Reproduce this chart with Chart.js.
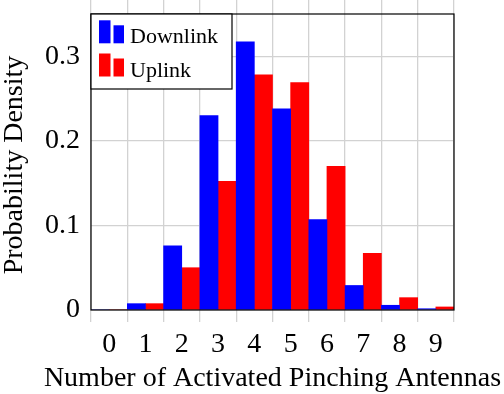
<!DOCTYPE html>
<html><head><meta charset="utf-8">
<script src="https://cdn.jsdelivr.net/npm/chart.js@4/dist/chart.umd.min.js"></script>
<style>html,body{margin:0;padding:0;background:#fff;overflow:hidden}#wrap{width:504px;height:394px}</style>
</head><body><div id="wrap"><canvas id="c" width="504" height="394"></canvas></div>
<script>
const categories = ['0','1','2','3','4','5','6','7','8','9'];
const downlink = [0, 0.0075, 0.076, 0.230, 0.317, 0.238, 0.107, 0.029, 0.0056, 0.0015];
const uplink   = [0, 0.0075, 0.050, 0.152, 0.278, 0.269, 0.170, 0.067, 0.0146, 0.0036];
const yTickValues = [0, 0.1, 0.2, 0.3];
const yTickLabels = ['0', '0.1', '0.2', '0.3'];
const seriesNames = ['Downlink', 'Uplink'];
const seriesColors = ['#0000ff', '#ff0000'];
const xTitle = 'Number of Activated Pinching Antennas';
const yTitle = 'Probability Density';

const FONT = 'Liberation Serif, Times New Roman, serif';
const GRID = '#d2d2d2';

const boxLegend = {
  id: 'boxLegend',
  afterDraw(chart) {
    const {ctx, chartArea: a} = chart;
    ctx.save();
    ctx.strokeStyle = '#000';
    ctx.lineWidth = 1.2;
    ctx.strokeRect(a.left, a.top, a.right - a.left, a.bottom - a.top);
    // axis titles
    ctx.fillStyle = '#000';
    ctx.font = '28px ' + FONT;
    ctx.textAlign = 'center';
    ctx.textBaseline = 'alphabetic';
    ctx.fillText(xTitle, (a.left + a.right) / 2, a.bottom + 76);
    ctx.save();
    ctx.translate(22, 165);
    ctx.rotate(-Math.PI / 2);
    ctx.fillText(yTitle, 0, 0);
    ctx.restore();
    // legend
    const lx = a.left, ly = a.top, lw = 141, lh = 75;
    ctx.fillStyle = '#fff';
    ctx.fillRect(lx, ly, lw, lh);
    ctx.strokeRect(lx, ly, lw, lh);
    ctx.font = '22px ' + FONT;
    ctx.textAlign = 'left';
    const bases = [29.3, 62.5];
    chart.data.datasets.forEach((ds, i) => {
      const b = ly + bases[i];
      ctx.fillStyle = ds.backgroundColor;
      ctx.fillRect(lx + 8, b - 23, 11.5, 23);
      ctx.fillRect(lx + 22.5, b - 18, 10.5, 18);
      ctx.fillStyle = '#000';
      ctx.fillText(ds.label, lx + 39, b);
    });
    ctx.restore();
  }
};

new Chart(document.getElementById('c'), {
  type: 'bar',
  data: {
    labels: categories,
    datasets: [
      {label: seriesNames[0], data: downlink, backgroundColor: seriesColors[0], borderWidth: 0, categoryPercentage: 1, barPercentage: 1},
      {label: seriesNames[1], data: uplink, backgroundColor: seriesColors[1], borderWidth: 0, categoryPercentage: 1, barPercentage: 1}
    ]
  },
  options: {
    responsive: false,
    devicePixelRatio: 1,
    animation: false,
    layout: {padding: {top: 0, right: 50, left: 0, bottom: 0}},
    plugins: {legend: {display: false}, tooltip: {enabled: false}},
    scales: {
      x: {
        type: 'category', position: 'bottom', offset: true,
        grid: {offset: true, color: GRID, lineWidth: 1.3, tickLength: 12, drawTicks: true},
        border: {display: false},
        ticks: {color: '#000', font: {family: FONT, size: 28, lineHeight: 1}, padding: 9, maxRotation: 0},
        afterFit: s => { s.height = 84; s.paddingLeft = 0; s.paddingRight = 0; }
      },
      x2: {
        type: 'category', axis: 'x', position: 'top', offset: true, labels: categories,
        grid: {offset: true, color: GRID, lineWidth: 1.3, tickLength: 14, drawOnChartArea: false},
        border: {display: false},
        ticks: {display: false},
        afterFit: s => { s.height = 14; s.paddingLeft = 0; s.paddingRight = 0; }
      },
      y: {
        min: 0, max: 0.35,
        afterBuildTicks: s => { s.ticks = yTickValues.map(v => ({value: v})); },
        ticks: {color: '#000', font: {family: FONT, size: 28, lineHeight: 1}, padding: 11,
          callback: (v) => { const i = yTickValues.findIndex(t => Math.abs(t - v) < 1e-9); return i >= 0 ? yTickLabels[i] : ''; }},
        grid: {color: GRID, lineWidth: 1.3, drawTicks: false},
        border: {display: false},
        afterFit: s => { s.width = 91; s.paddingTop = 0; s.paddingBottom = 0; }
      }
    }
  },
  plugins: [boxLegend]
});
</script>
</body></html>
